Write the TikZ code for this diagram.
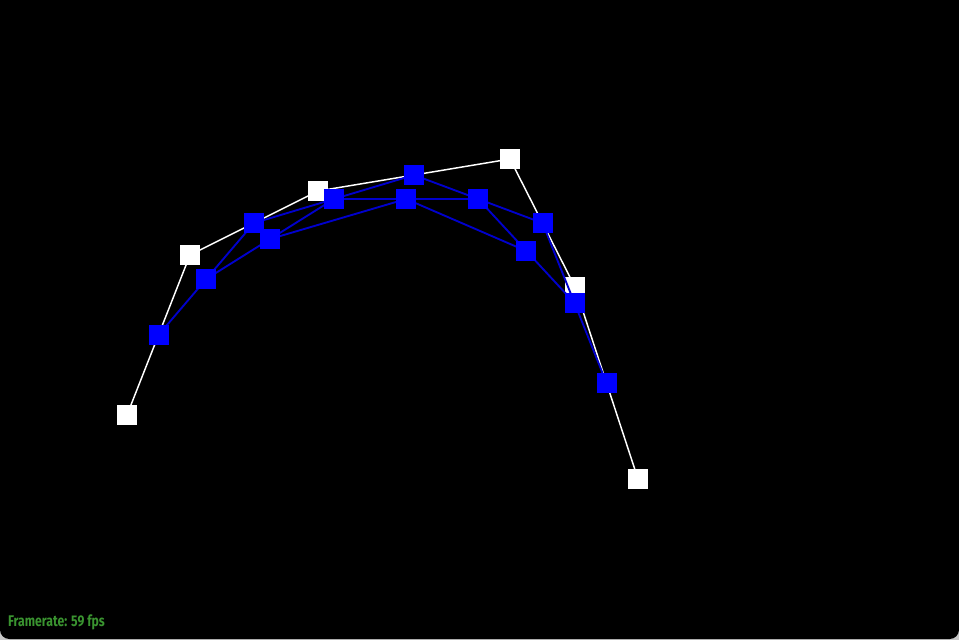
\documentclass[tikz,border=0pt]{standalone}
\usepackage{fontspec}
\setmainfont{Fira Sans}
\usetikzlibrary{calc}
\definecolor{ptblue}{RGB}{0,0,255}
\definecolor{lineblue}{RGB}{0,0,205}
\definecolor{fpsgreen}{RGB}{58,148,48}
\definecolor{frame}{RGB}{200,200,200}

\begin{document}
\begin{tikzpicture}[x=0.75pt,y=-0.75pt,
	ctrl/.style={fill=white,minimum size=15pt,inner sep=0pt,draw=none},
	mid/.style={fill=ptblue,minimum size=15pt,inner sep=0pt,draw=none},
	hull/.style={white,line width=1.1pt},
	sub/.style={lineblue,line width=1.4pt}]

	\useasboundingbox (0,0) rectangle (959,640);
	\fill[frame] (0,0) rectangle (959,640);
	\fill[black] (0,0) -- (959,0) [rounded corners=7] -- (959,639) -- (0,639) [sharp corners] -- cycle;

	% control points
	\coordinate (p0) at (127,415);
	\coordinate (p1) at (190,255);
	\coordinate (p2) at (318,191);
	\coordinate (p3) at (510,159);
	\coordinate (p4) at (575,287);
	\coordinate (p5) at (638,479);

	% first level
	\coordinate (a1) at ($(p0)!0.5!(p1)$);
	\coordinate (a2) at ($(p1)!0.5!(p2)$);
	\coordinate (a3) at ($(p2)!0.5!(p3)$);
	\coordinate (a4) at ($(p3)!0.5!(p4)$);
	\coordinate (a5) at ($(p4)!0.5!(p5)$);
	% second level
	\coordinate (b1) at ($(a1)!0.5!(a2)$);
	\coordinate (b2) at ($(a2)!0.5!(a3)$);
	\coordinate (b3) at ($(a3)!0.5!(a4)$);
	\coordinate (b4) at ($(a4)!0.5!(a5)$);
	% third level
	\coordinate (c1) at ($(b1)!0.5!(b2)$);
	\coordinate (c2) at ($(b2)!0.5!(b3)$);
	\coordinate (c3) at ($(b3)!0.5!(b4)$);

	\draw[hull] (p0) -- (p1) -- (p2) -- (p3) -- (p4) -- (p5);
	\foreach \p in {p0,p1,p2,p3,p4,p5}
		\node[ctrl] at (\p) {};

	\draw[sub] (a1) -- (a2) -- (a3) -- (a4) -- (a5);
	\draw[sub] (b1) -- (b2) -- (b3) -- (b4);
	\draw[sub] (c1) -- (c2) -- (c3);
	\foreach \p in {a1,a2,a3,a4,a5,b1,b2,b3,b4,c1,c2,c3}
		\node[mid] at (\p) {};

	\node[anchor=base west,inner sep=0pt,text=fpsgreen,font=\fontsize{11.6}{13}\selectfont\bfseries,xscale=0.79] (fps) at (8,626) {Framerate: 59 fps};

\end{tikzpicture}
\end{document}
